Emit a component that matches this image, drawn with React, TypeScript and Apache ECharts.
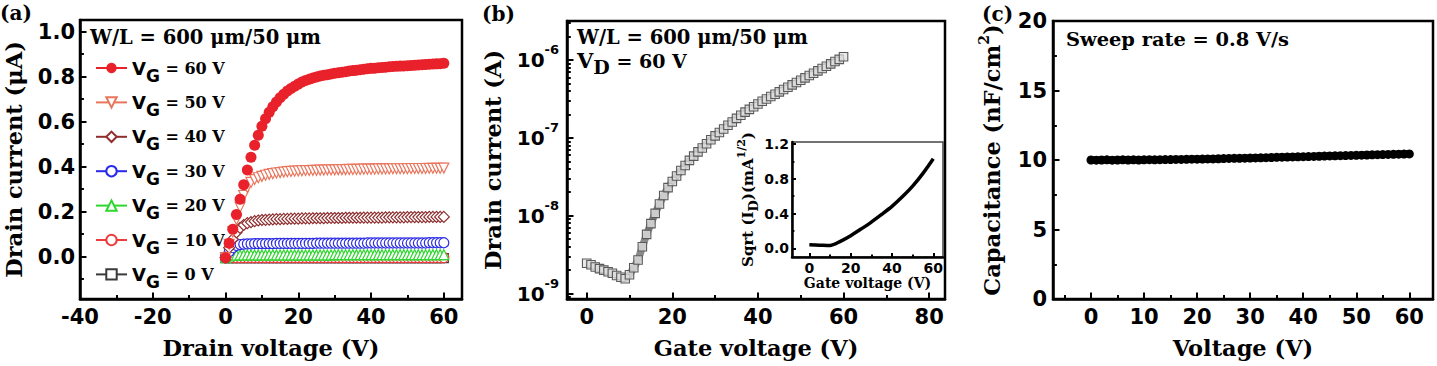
import React, { useEffect, useRef } from 'react';
import * as echarts from 'echarts';

const SANS = '"DejaVu Sans", sans-serif';
const SERIF = '"DejaVu Serif", serif';

// Voltage sweep (V), shared by all three measurements
const SWEEP_V = [
  0, 1, 2, 3, 4, 5, 6, 7, 8, 9, 10, 11, 12, 13, 14, 15, 16, 17, 18, 19, 20,
  21, 22, 23, 24, 25, 26, 27, 28, 29, 30, 31, 32, 33, 34, 35, 36, 37, 38, 39, 40,
  41, 42, 43, 44, 45, 46, 47, 48, 49, 50, 51, 52, 53, 54, 55, 56, 57, 58, 59, 60,
];

// (a) output characteristics, drain current in µA
const ID_VG60 = [
  -0.005, 0.060, 0.122, 0.188, 0.255, 0.320, 0.385, 0.442, 0.495, 0.540,
  0.580, 0.613, 0.642, 0.666, 0.688, 0.706, 0.722, 0.736, 0.748, 0.758,
  0.767, 0.776, 0.783, 0.789, 0.794, 0.799, 0.803, 0.806, 0.809, 0.812,
  0.815, 0.818, 0.820, 0.822, 0.825, 0.827, 0.829, 0.831, 0.833, 0.835,
  0.837, 0.838, 0.840, 0.841, 0.842, 0.844, 0.845, 0.846, 0.847, 0.848,
  0.849, 0.850, 0.851, 0.852, 0.853, 0.854, 0.855, 0.856, 0.857, 0.858, 0.860,
];
const ID_VG50 = [
  -0.004, 0.055, 0.110, 0.165, 0.220, 0.272, 0.308, 0.330, 0.343, 0.351,
  0.357, 0.362, 0.366, 0.369, 0.372, 0.374, 0.376, 0.378, 0.379, 0.380,
  0.381, 0.382, 0.383, 0.383, 0.384, 0.384, 0.385, 0.385, 0.386, 0.386,
  0.386, 0.387, 0.387, 0.387, 0.388, 0.388, 0.388, 0.388, 0.389, 0.389,
  0.389, 0.389, 0.390, 0.390, 0.390, 0.390, 0.391, 0.391, 0.391, 0.391,
  0.391, 0.392, 0.392, 0.392, 0.392, 0.392, 0.393, 0.393, 0.393, 0.393, 0.394,
];
const ID_VG40 = [
  -0.004, 0.040, 0.078, 0.108, 0.128, 0.141, 0.149, 0.154, 0.158, 0.161,
  0.163, 0.164, 0.165, 0.166, 0.167, 0.167, 0.168, 0.168, 0.169, 0.169,
  0.169, 0.170, 0.170, 0.170, 0.171, 0.171, 0.171, 0.171, 0.172, 0.172,
  0.172, 0.172, 0.172, 0.173, 0.173, 0.173, 0.173, 0.173, 0.174, 0.174,
  0.174, 0.174, 0.174, 0.174, 0.175, 0.175, 0.175, 0.175, 0.175, 0.175,
  0.176, 0.176, 0.176, 0.176, 0.176, 0.176, 0.177, 0.177, 0.177, 0.177, 0.177,
];
const ID_VG30 = [
  -0.004, 0.022, 0.040, 0.050, 0.054, 0.056, 0.057, 0.057, 0.058, 0.058,
  0.058, 0.058, 0.058, 0.058, 0.059, 0.059, 0.059, 0.059, 0.059, 0.059,
  0.059, 0.059, 0.059, 0.059, 0.059, 0.060, 0.060, 0.060, 0.060, 0.060,
  0.060, 0.060, 0.060, 0.060, 0.060, 0.060, 0.060, 0.060, 0.060, 0.061,
  0.061, 0.061, 0.061, 0.061, 0.061, 0.061, 0.061, 0.061, 0.061, 0.061,
  0.061, 0.061, 0.061, 0.061, 0.061, 0.061, 0.062, 0.062, 0.062, 0.062, 0.062,
];
const ID_VG20 = [
  -0.004, 0.003, 0.006, 0.007, 0.008, 0.008, 0.008, 0.008, 0.008, 0.008,
  0.008, 0.008, 0.008, 0.008, 0.008, 0.008, 0.008, 0.008, 0.008, 0.008,
  0.008, 0.008, 0.008, 0.008, 0.008, 0.008, 0.008, 0.008, 0.008, 0.008,
  0.009, 0.009, 0.009, 0.009, 0.009, 0.009, 0.009, 0.009, 0.009, 0.009,
  0.009, 0.009, 0.009, 0.009, 0.009, 0.009, 0.009, 0.009, 0.009, 0.009,
  0.009, 0.009, 0.009, 0.009, 0.009, 0.009, 0.009, 0.009, 0.009, 0.009, 0.009,
];
const ID_VG10 = [
  -0.005, -0.004, -0.004, -0.004, -0.004, -0.004, -0.004, -0.004, -0.004, -0.004,
  -0.004, -0.004, -0.004, -0.004, -0.004, -0.004, -0.004, -0.004, -0.004, -0.004,
  -0.004, -0.004, -0.004, -0.004, -0.004, -0.004, -0.004, -0.004, -0.004, -0.004,
  -0.004, -0.004, -0.004, -0.004, -0.004, -0.004, -0.004, -0.004, -0.004, -0.004,
  -0.004, -0.004, -0.004, -0.004, -0.004, -0.004, -0.004, -0.004, -0.004, -0.004,
  -0.004, -0.004, -0.004, -0.004, -0.004, -0.004, -0.004, -0.004, -0.004, -0.004, -0.004,
];
const ID_VG0 = [
  -0.006, -0.006, -0.006, -0.006, -0.006, -0.006, -0.006, -0.006, -0.006, -0.006,
  -0.006, -0.006, -0.006, -0.006, -0.006, -0.006, -0.006, -0.006, -0.006, -0.006,
  -0.006, -0.006, -0.006, -0.006, -0.006, -0.006, -0.006, -0.006, -0.006, -0.006,
  -0.006, -0.006, -0.006, -0.006, -0.006, -0.006, -0.006, -0.006, -0.006, -0.006,
  -0.006, -0.006, -0.006, -0.006, -0.006, -0.006, -0.006, -0.006, -0.006, -0.006,
  -0.006, -0.006, -0.006, -0.006, -0.006, -0.006, -0.006, -0.006, -0.006, -0.006, -0.006,
];

// (b) transfer characteristic at VD = 60 V, drain current in A
const ID_TRANSFER = [
  2.45e-9, 2.34e-9, 2.19e-9, 2.09e-9, 2.0e-9, 1.9e-9, 1.82e-9, 1.7e-9, 1.62e-9, 1.55e-9,
  1.74e-9, 2.14e-9, 2.7e-9, 3.98e-9, 5.75e-9, 7.9e-9, 1.07e-8, 1.41e-8, 1.82e-8, 2.29e-8,
  2.75e-8, 3.24e-8, 3.8e-8, 4.42e-8, 5.13e-8, 5.82e-8, 6.6e-8, 7.41e-8, 8.41e-8, 9.44e-8,
  1.06e-7, 1.17e-7, 1.3e-7, 1.45e-7, 1.6e-7, 1.78e-7, 1.95e-7, 2.14e-7, 2.32e-7, 2.51e-7,
  2.72e-7, 2.95e-7, 3.16e-7, 3.39e-7, 3.63e-7, 3.89e-7, 4.17e-7, 4.47e-7, 4.79e-7, 5.13e-7,
  5.5e-7, 5.89e-7, 6.31e-7, 6.76e-7, 7.24e-7, 7.76e-7, 8.32e-7, 8.91e-7, 9.55e-7, 1.02e-6, 1.1e-6,
];

// (b) inset: square root of drain current
const INSET_V = [0, 5, 10, 15, 20, 25, 30, 35, 40, 45, 50, 55, 60];
const INSET_SQRT_ID = [0.040, 0.036, 0.032, 0.080, 0.145, 0.222, 0.302, 0.390, 0.482, 0.592, 0.715, 0.862, 1.030];

// (c) capacitance in nF/cm²
const CAPACITANCE = [
  10.00, 9.99, 10.00, 10.01, 9.99, 10.00, 10.01, 10.00, 10.01, 10.00,
  10.01, 10.02, 10.01, 10.02, 10.03, 10.03, 10.04, 10.04, 10.05, 10.06,
  10.06, 10.07, 10.08, 10.08, 10.09, 10.10, 10.11, 10.12, 10.12, 10.13,
  10.14, 10.15, 10.16, 10.17, 10.18, 10.19, 10.20, 10.21, 10.22, 10.23,
  10.24, 10.25, 10.26, 10.27, 10.28, 10.29, 10.30, 10.31, 10.32, 10.33,
  10.34, 10.35, 10.36, 10.37, 10.38, 10.39, 10.40, 10.41, 10.42, 10.43, 10.44,
];

// Tick values
const A_X_TICKS = [-40, -20, 0, 20, 40, 60];
const A_X_MINOR = [-30, -10, 10, 30, 50];
const A_Y_TICKS = [0, 0.2, 0.4, 0.6, 0.8, 1.0];
const A_Y_MINOR = [-0.1, 0.1, 0.3, 0.5, 0.7, 0.9];
const B_X_TICKS = [0, 20, 40, 60, 80];
const B_X_MINOR = [10, 30, 50, 70];
const INSET_X_TICKS = [0, 20, 40, 60];
const INSET_X_MINOR = [10, 30, 50];
const INSET_Y_TICKS = [0, 0.4, 0.8, 1.2];
const INSET_Y_MINOR = [0.2, 0.6, 1.0];
const C_X_TICKS = [0, 10, 20, 30, 40, 50, 60];
const C_X_MINOR = [-5, 5, 15, 25, 35, 45, 55];
const C_Y_TICKS = [0, 5, 10, 15, 20];
const C_Y_MINOR = [2.5, 7.5, 12.5, 17.5];

const VG_LEGEND_ORDER = ['60', '50', '40', '30', '20', '10', '0'];

// Marker style of each gate-voltage curve, in drawing order
const OUTPUT_CURVES = [
  { name: '0', values: ID_VG0, symbol: 'rect', rotate: 0, color: '#3a3a3a', filled: false, size: 9 },
  { name: '10', values: ID_VG10, symbol: 'circle', rotate: 0, color: '#ee3b3b', filled: false, size: 10 },
  { name: '20', values: ID_VG20, symbol: 'triangle', rotate: 0, color: '#2fd62f', filled: false, size: 10 },
  { name: '30', values: ID_VG30, symbol: 'circle', rotate: 0, color: '#2a2ae8', filled: false, size: 10 },
  { name: '40', values: ID_VG40, symbol: 'diamond', rotate: 0, color: '#8e2e2e', filled: false, size: 11 },
  { name: '50', values: ID_VG50, symbol: 'triangle', rotate: 180, color: '#e9755c', filled: false, size: 10 },
  { name: '60', values: ID_VG60, symbol: 'circle', rotate: 0, color: '#e8212b', filled: true, size: 11 },
];

const AXIS_LINE = { show: true, onZero: false, lineStyle: { color: '#000', width: 2.5 } };
const TICK_LINE = { color: '#000', width: 2 };
const NAME_SIZE = 22.5;

function pair(xs: number[], ys: number[]) {
  return xs.map((x, i) => [x, ys[i]]);
}

function axisPair(
  gridIndex: number,
  position: string,
  min: number,
  max: number,
  majors: number[],
  minors: number[],
  label: { size: number; margin: number; formatter?: (v: number) => string },
  name: Record<string, unknown> = {},
  tickLen = 6.5,
) {
  const main = {
    type: 'value',
    gridIndex,
    position,
    min,
    max,
    splitLine: { show: false },
    axisLine: AXIS_LINE,
    axisTick: { show: true, inside: true, length: tickLen, customValues: majors, lineStyle: TICK_LINE },
    axisLabel: {
      customValues: majors,
      fontFamily: SANS,
      fontWeight: 'bold',
      fontSize: label.size,
      color: '#000',
      margin: label.margin,
      formatter: label.formatter,
    },
    ...name,
  };
  const minor = {
    type: 'value',
    gridIndex,
    position,
    min,
    max,
    splitLine: { show: false },
    axisLine: { show: false, onZero: false },
    axisTick: { show: true, inside: true, length: tickLen * 0.6, customValues: minors, lineStyle: TICK_LINE },
    axisLabel: { show: false },
  };
  return [main, minor];
}

function axisName(text: string, gap: number, size: number, rotate?: number, rich?: Record<string, unknown>) {
  return {
    name: text,
    nameLocation: 'middle',
    nameGap: gap,
    nameRotate: rotate,
    nameTextStyle: { fontFamily: SERIF, fontWeight: 'bold', fontSize: size, color: '#000', rich },
  };
}

// log-axis range of panel (b)
const B_Y_MIN = 8.5e-10;
const B_Y_MAX = 3.17e-6;
const B_LOG_MINOR: number[] = [];
for (let e = -10; e <= -6; e++) {
  for (let k = 2; k <= 9; k++) {
    const v = e + Math.log10(k);
    if (v > Math.log10(B_Y_MIN) && v < Math.log10(B_Y_MAX)) B_LOG_MINOR.push(v);
  }
}

function buildOption() {
  const fmt1 = (v: number) => v.toFixed(1);
  const xAxis = [
    ...axisPair(0, 'bottom', -40, 65, A_X_TICKS, A_X_MINOR, { size: 21, margin: 7 }, axisName('Drain voltage (V)', 37, NAME_SIZE)),
    ...axisPair(1, 'bottom', -4.6, 83.7, B_X_TICKS, B_X_MINOR, { size: 21, margin: 7 }, axisName('Gate voltage (V)', 37, NAME_SIZE)),
    ...axisPair(2, 'bottom', -8.4, 64.7, INSET_X_TICKS, INSET_X_MINOR, { size: 14, margin: 4 }, axisName('Gate voltage (V)', 19, 14), 4),
    ...axisPair(3, 'bottom', -7.16, 64.46, C_X_TICKS, C_X_MINOR, { size: 21, margin: 7 }, axisName('Voltage (V)', 37, NAME_SIZE)),
  ];

  const supRich = {
    t: { fontFamily: SERIF, fontWeight: 'bold', fontSize: NAME_SIZE, lineHeight: 30, color: '#000' },
    sup: { fontFamily: SERIF, fontWeight: 'bold', fontSize: 14, lineHeight: 13, verticalAlign: 'top', color: '#000' },
  };
  const insetRich = {
    t: { fontFamily: SERIF, fontWeight: 'bold', fontSize: 15, lineHeight: 24, color: '#000' },
    sub: { fontFamily: SERIF, fontWeight: 'bold', fontSize: 13, lineHeight: 13, verticalAlign: 'bottom', color: '#000' },
    sup: { fontFamily: SERIF, fontWeight: 'bold', fontSize: 11, lineHeight: 11, verticalAlign: 'top', color: '#000' },
  };

  const [aY, aYMinor] = axisPair(0, 'left', -0.188, 1.052, A_Y_TICKS, A_Y_MINOR, { size: 21, margin: 5, formatter: fmt1 }, axisName('Drain current (μA)', 55, NAME_SIZE, 90));
  const [iY, iYMinor] = axisPair(2, 'left', -0.1, 1.223, INSET_Y_TICKS, INSET_Y_MINOR, { size: 14, margin: 3, formatter: fmt1 },
    axisName('{t|Sqrt (I}{sub|D}{t|)(mA}{sup|1/2}{t|)}', 28, 15, 90, insetRich), 4);
  const [cY, cYMinor] = axisPair(3, 'left', 0, 20, C_Y_TICKS, C_Y_MINOR, { size: 21, margin: 6 },
    axisName('{t|Capacitance (nF/cm}{sup|2}{t|)}', 46, NAME_SIZE, 90, supRich));

  const bY = {
    type: 'log',
    gridIndex: 1,
    position: 'left',
    min: B_Y_MIN,
    max: B_Y_MAX,
    splitLine: { show: false },
    axisLine: AXIS_LINE,
    axisTick: { show: true, inside: true, length: 6.5, lineStyle: TICK_LINE },
    axisLabel: {
      showMinLabel: false,
      showMaxLabel: false,
      margin: 8,
      formatter: (v: number) => `{b|10}{s|${Math.round(Math.log10(v))}}`,
      rich: {
        b: { fontFamily: SANS, fontWeight: 'bold', fontSize: 20, lineHeight: 34, color: '#000' },
        s: { fontFamily: SANS, fontWeight: 'bold', fontSize: 13, lineHeight: 14, verticalAlign: 'top', color: '#000' },
      },
    },
    ...axisName('Drain current (A)', 63, NAME_SIZE, 90),
  };
  const bYMinor = {
    type: 'value',
    gridIndex: 1,
    position: 'left',
    min: Math.log10(B_Y_MIN),
    max: Math.log10(B_Y_MAX),
    splitLine: { show: false },
    axisLine: { show: false, onZero: false },
    axisTick: { show: true, inside: true, length: 3.8, customValues: B_LOG_MINOR, lineStyle: TICK_LINE },
    axisLabel: { show: false },
  };

  const yAxis = [aY, aYMinor, bY, bYMinor, iY, iYMinor, cY, cYMinor];

  const outputSeries = OUTPUT_CURVES.map((c) => ({
    type: 'line',
    name: c.name,
    xAxisIndex: 0,
    yAxisIndex: 0,
    data: pair(SWEEP_V, c.values),
    symbol: c.symbol,
    symbolSize: c.size,
    symbolRotate: c.rotate,
    color: c.color,
    itemStyle: c.filled
      ? { color: c.color, borderColor: c.color, borderWidth: 0 }
      : { color: '#fff', borderColor: c.color, borderWidth: 1.2 },
    lineStyle: { color: c.color, width: 0, opacity: 0 },
  }));

  const frame = { show: true, borderColor: '#000', borderWidth: 2.5, backgroundColor: 'transparent' };

  return {
    animation: false,
    backgroundColor: '#fff',
    grid: [
      { left: 80, top: 20, width: 382, height: 279, ...frame },
      { left: 567, top: 21, width: 378, height: 278, ...frame },
      { left: 792, top: 142, width: 151, height: 115, show: true, borderColor: '#444', borderWidth: 1.5, backgroundColor: '#fff' },
      { left: 1053, top: 21, width: 380, height: 278, ...frame },
    ],
    xAxis,
    yAxis,
    legend: {
      orient: 'vertical',
      left: 90,
      top: 54,
      itemWidth: 31,
      itemHeight: 13,
      itemGap: 9.4,
      selectedMode: false,
      data: VG_LEGEND_ORDER.map((n) => {
        const c = OUTPUT_CURVES.find((s) => s.name === n)!;
        return { name: n, lineStyle: { color: c.color, width: 2, opacity: 1 } };
      }),
      formatter: (name: string) => `{v|V}{g|G}{t| = ${name} V}`,
      textStyle: {
        rich: {
          v: { fontFamily: SANS, fontWeight: 'bold', fontSize: 18, lineHeight: 32, color: '#000' },
          g: { fontFamily: SANS, fontWeight: 'bold', fontSize: 17, lineHeight: 17, verticalAlign: 'bottom', color: '#000' },
          t: { fontFamily: SERIF, fontWeight: 'bold', fontSize: 16, lineHeight: 32, color: '#000' },
        },
      },
    },
    graphic: [
      { type: 'text', left: 0, top: 3, style: { text: '(a)', font: `bold 20px ${SERIF}`, fill: '#000' } },
      { type: 'text', left: 482, top: 4, style: { text: '(b)', font: `bold 20px ${SERIF}`, fill: '#000' } },
      { type: 'text', left: 982, top: 4, style: { text: '(c)', font: `bold 20px ${SERIF}`, fill: '#000' } },
      { type: 'text', left: 90, top: 27, style: { text: 'W/L = 600 μm/50 μm', font: `bold 19.5px ${SERIF}`, fill: '#000' } },
      { type: 'text', left: 577, top: 27, style: { text: 'W/L = 600 μm/50 μm', font: `bold 19.5px ${SERIF}`, fill: '#000' } },
      {
        type: 'text',
        left: 577,
        top: 50,
        style: {
          text: '{v|V}{d|D}{t| = 60 V}',
          rich: {
            v: { fontFamily: SERIF, fontWeight: 'bold', fontSize: 21, lineHeight: 32, fill: '#000' },
            d: { fontFamily: SERIF, fontWeight: 'bold', fontSize: 19, lineHeight: 19, verticalAlign: 'bottom', fill: '#000' },
            t: { fontFamily: SERIF, fontWeight: 'bold', fontSize: 19, lineHeight: 32, fill: '#000' },
          },
        },
      },
      { type: 'text', left: 1066, top: 30, style: { text: 'Sweep rate = 0.8 V/s', font: `bold 19.4px ${SERIF}`, fill: '#000' } },
    ],
    series: [
      ...outputSeries,
      {
        type: 'line',
        name: 'transfer',
        xAxisIndex: 2,
        yAxisIndex: 2,
        data: pair(SWEEP_V, ID_TRANSFER),
        symbol: 'rect',
        symbolSize: 8.5,
        itemStyle: { color: 'rgba(225,225,225,0.75)', borderColor: '#5a5a5a', borderWidth: 1.1 },
        lineStyle: { color: '#8a8a8a', width: 7.5, opacity: 1 },
      },
      {
        type: 'line',
        name: 'sqrt',
        xAxisIndex: 4,
        yAxisIndex: 4,
        data: pair(INSET_V, INSET_SQRT_ID),
        showSymbol: false,
        smooth: 0.3,
        lineStyle: { color: '#000', width: 3.5 },
      },
      {
        type: 'line',
        name: 'capacitance',
        xAxisIndex: 6,
        yAxisIndex: 6,
        data: pair(SWEEP_V, CAPACITANCE),
        symbol: 'circle',
        symbolSize: 9,
        itemStyle: { color: '#000' },
        lineStyle: { color: '#000', width: 7 },
      },
    ],
  };
}

export default function App() {
  const ref = useRef<HTMLDivElement>(null);
  useEffect(() => {
    if (!ref.current) return;
    const chart = echarts.init(ref.current, null, { renderer: 'svg' });
    chart.setOption(buildOption() as any);
    return () => chart.dispose();
  }, []);
  return (
    <div
      ref={ref}
      style={{ position: 'absolute', left: 0, top: 0, width: 1437, height: 366, background: '#fff' }}
    />
  );
}
